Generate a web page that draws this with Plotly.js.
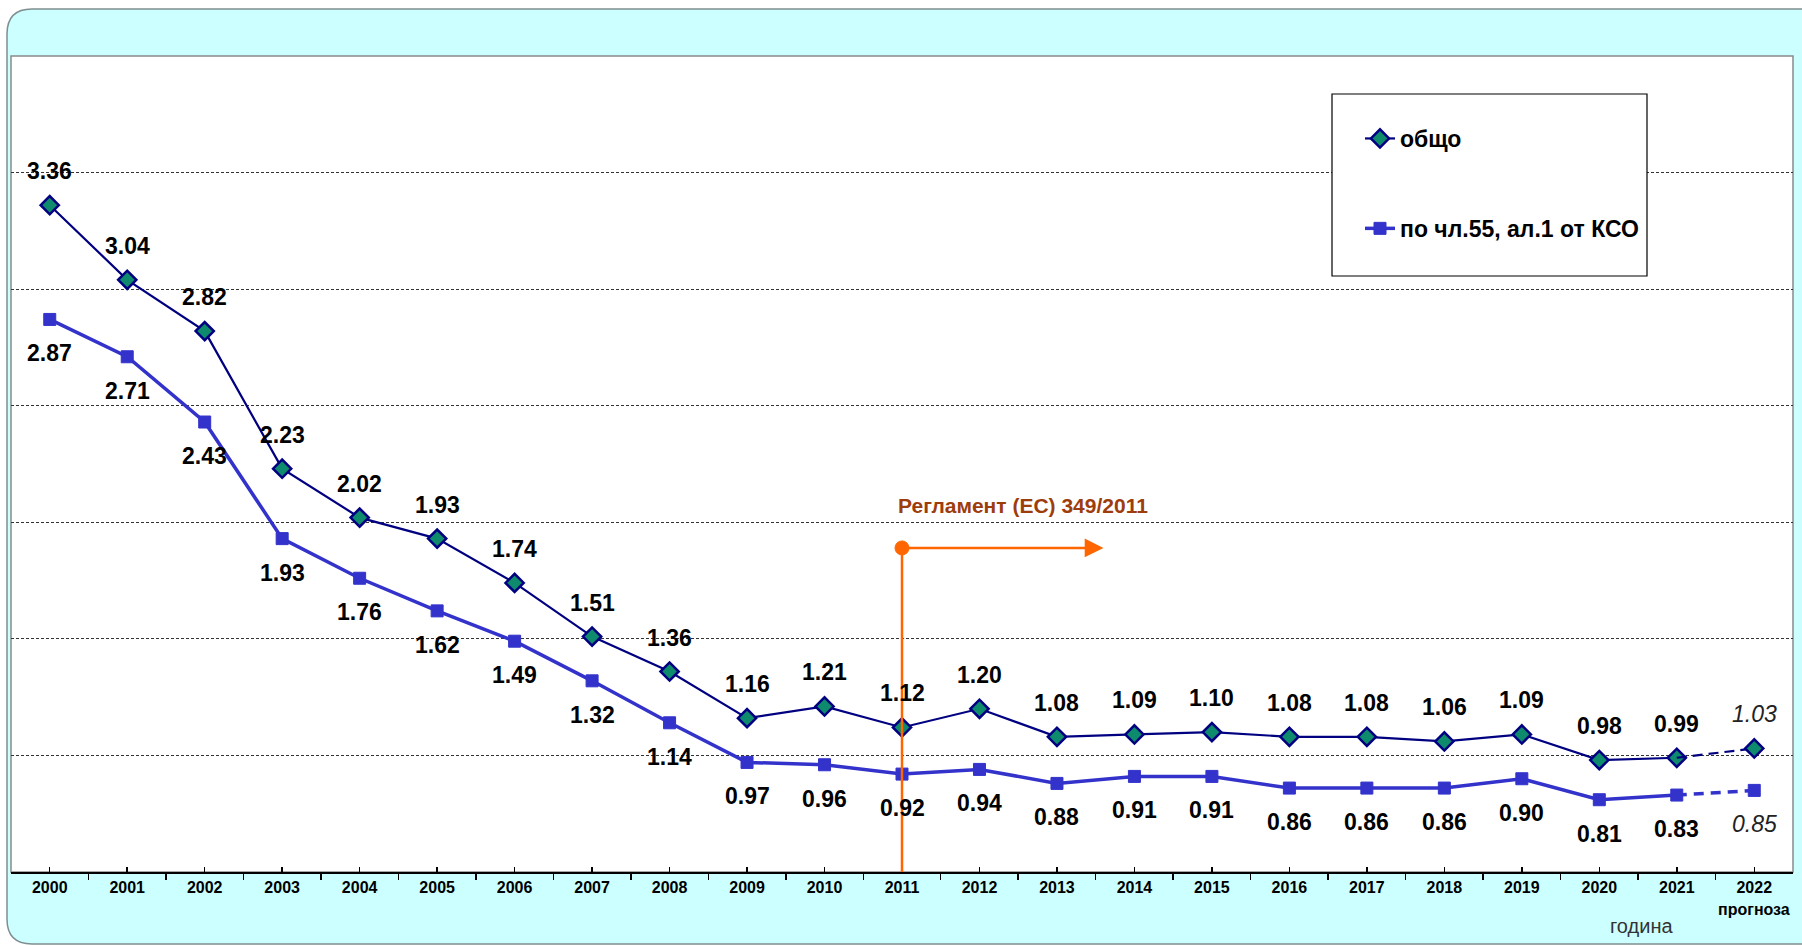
<!DOCTYPE html>
<html>
<head>
<meta charset="utf-8">
<script src="https://cdn.plot.ly/plotly-3.0.1.min.js"></script>
<style>html,body{margin:0;padding:0;background:#fff;}#chart{width:1802px;height:945px;}</style>
</head>
<body>
<div id="chart"></div>
<script>
// ---- data ----
const years = [2000,2001,2002,2003,2004,2005,2006,2007,2008,2009,2010,2011,2012,2013,2014,2015,2016,2017,2018,2019,2020,2021,2022];
const yearLabels = ['2000','2001','2002','2003','2004','2005','2006','2007','2008','2009','2010','2011','2012','2013','2014','2015','2016','2017','2018','2019','2020','2021','2022'];
const totalValues = [3.36,3.04,2.82,2.23,2.02,1.93,1.74,1.51,1.36,1.16,1.21,1.12,1.20,1.08,1.09,1.10,1.08,1.08,1.06,1.09,0.98,0.99,1.03];
const art55Values = [2.87,2.71,2.43,1.93,1.76,1.62,1.49,1.32,1.14,0.97,0.96,0.92,0.94,0.88,0.91,0.91,0.86,0.86,0.86,0.90,0.81,0.83,0.85];
const seriesNames = ['общо','по чл.55, ал.1 от КСО'];
const forecastNote = 'прогноза';
const xAxisTitle = 'година';
const gridValues = [1.0,1.5,2.0,2.5,3.0,3.5];
const regulationText = 'Регламент (ЕС) 349/2011';
const regulationYear = 2011;
const regulationLevel = 1.89;
const regulationArrowEnd = 2013.6;
const regulationTextLevel = 2.07;

// ---- geometry helpers (layout only) ----
const W = 1802, H = 945;
const M = {l: 11, r: 9, t: 56, b: 73};
const PW = W - M.l - M.r, PH = H - M.t - M.b;
const px = v => (v - M.l) / PW;
const py = v => (H - M.b - v) / PH;

const FONT = '"Liberation Sans", Arial, sans-serif';
const NAVY = '#000080';
const BLUE = '#3333CC';
const TEAL = '#0E8A6C';
const ORANGE = '#FF6600';

const nSolid = years.length - 1; // last point is a forecast

const traces = [
  {
    x: years.slice(0, nSolid), y: totalValues.slice(0, nSolid),
    name: seriesNames[0], legendgroup: 'g1', mode: 'lines+markers',
    line: {color: NAVY, width: 2.2},
    marker: {symbol: 'diamond', size: 14, color: TEAL, line: {color: NAVY, width: 2.5}},
    hoverinfo: 'x+y'
  },
  {
    x: years.slice(nSolid - 1), y: totalValues.slice(nSolid - 1),
    legendgroup: 'g1', showlegend: false, mode: 'lines+markers',
    line: {color: NAVY, width: 2.2, dash: '10px,6px'},
    marker: {symbol: 'diamond', size: 14, color: TEAL, line: {color: NAVY, width: 2.5}, opacity: [0, 1]},
    hoverinfo: 'x+y'
  },
  {
    x: years.slice(0, nSolid), y: art55Values.slice(0, nSolid),
    name: seriesNames[1], legendgroup: 'g2', mode: 'lines+markers',
    line: {color: BLUE, width: 3.5},
    marker: {symbol: 'square', size: 12, color: BLUE, line: {color: BLUE, width: 1}},
    hoverinfo: 'x+y'
  },
  {
    x: years.slice(nSolid - 1), y: art55Values.slice(nSolid - 1),
    legendgroup: 'g2', showlegend: false, mode: 'lines+markers',
    line: {color: BLUE, width: 3.5, dash: '10px,7px'},
    marker: {symbol: 'square', size: 12, color: BLUE, line: {color: BLUE, width: 1}, opacity: [0, 1]},
    hoverinfo: 'x+y'
  }
];

const annotations = [];
years.forEach((yr, i) => {
  const forecast = i === years.length - 1;
  const f = {family: FONT, size: 23, color: forecast ? '#222' : '#000', weight: forecast ? 'normal' : 'bold', style: forecast ? 'italic' : 'normal'};
  annotations.push({
    x: yr, y: totalValues[i], xref: 'x', yref: 'y', yshift: 34, showarrow: false,
    xanchor: 'center', yanchor: 'middle', text: totalValues[i].toFixed(2), font: f
  });
  annotations.push({
    x: yr, y: art55Values[i], xref: 'x', yref: 'y', yshift: -34, showarrow: false,
    xanchor: 'center', yanchor: 'middle', text: art55Values[i].toFixed(2), font: f
  });
});
// forecast note under last tick label
annotations.push({
  x: years[years.length - 1], xref: 'x', y: py(909), yref: 'paper', showarrow: false,
  xanchor: 'center', yanchor: 'middle',
  text: forecastNote, font: {family: FONT, size: 16, color: '#000', weight: 'bold'}
});
// x axis title
annotations.push({
  x: px(1641), xref: 'paper', y: py(926), yref: 'paper', showarrow: false,
  xanchor: 'center', yanchor: 'middle',
  text: xAxisTitle, font: {family: FONT, size: 20, color: '#333'}
});
// regulation marker
annotations.push({
  x: regulationArrowEnd, y: regulationLevel, xref: 'x', yref: 'y',
  ax: regulationYear, ay: regulationLevel, axref: 'x', ayref: 'y',
  text: '', showarrow: true, arrowhead: 2, arrowsize: 1.5, arrowwidth: 2.5, arrowcolor: ORANGE, standoff: 0
});
annotations.push({
  x: regulationYear, y: regulationTextLevel, xref: 'x', yref: 'y', xanchor: 'left', yanchor: 'middle', xshift: -6,
  showarrow: false, text: regulationText,
  font: {family: FONT, size: 21, color: '#9E3D0C', weight: 'bold'}
});

const r = 25;
const framePath = [
  'M', px(7), py(9 + r),
  'Q', px(7), py(9), px(7 + r), py(9),
  'L', px(1830), py(9),
  'L', px(1830), py(944),
  'L', px(7 + r), py(944),
  'Q', px(7), py(944), px(7), py(944 - r),
  'Z'
].join(' ');

const shapes = [
  {type: 'path', xref: 'paper', yref: 'paper', path: framePath, fillcolor: '#CCFFFF', line: {color: '#7f8f8f', width: 1.5}, layer: 'below'},
  {type: 'rect', xref: 'paper', yref: 'paper', x0: 0, x1: 1, y0: 0, y1: 1, fillcolor: '#FFFFFF', line: {color: '#8a8a8a', width: 1.5}, layer: 'below'},
  {type: 'line', xref: 'x', yref: 'y', x0: regulationYear, x1: regulationYear, y0: 0.5, y1: regulationLevel, line: {color: ORANGE, width: 2.5}, layer: 'above'},
  {type: 'circle', xref: 'x', yref: 'y', xsizemode: 'pixel', ysizemode: 'pixel', xanchor: regulationYear, yanchor: regulationLevel,
   x0: -7, x1: 7, y0: -7, y1: 7, fillcolor: ORANGE, line: {color: ORANGE, width: 1}, layer: 'above'},
  {type: 'rect', xref: 'paper', yref: 'paper', x0: px(1332), x1: px(1647), y0: py(276), y1: py(94), fillcolor: '#FFFFFF', line: {color: '#000', width: 1.2}, layer: 'above'}
];

const layout = {
  width: W, height: H,
  margin: M,
  paper_bgcolor: '#FFFFFF',
  plot_bgcolor: 'rgba(0,0,0,0)',
  font: {family: FONT, color: '#000'},
  showlegend: true,
  legend: {
    x: px(1360), y: py(117), xanchor: 'left', yanchor: 'top',
    bgcolor: 'rgba(0,0,0,0)', borderwidth: 0,
    font: {family: FONT, size: 23, color: '#000', weight: 'bold'},
    traceorder: 'grouped', tracegroupgap: 57
  },
  xaxis: {
    range: [1999.5, 2022.5],
    tickmode: 'array', tickvals: years, ticktext: yearLabels,
    ticks: 'inside', ticklen: 5, tickwidth: 1.5, tickcolor: '#000',
    tickfont: {family: FONT, size: 16, color: '#000', weight: 'bold'},
    showline: true, linecolor: '#000', linewidth: 2,
    showgrid: false, zeroline: false, fixedrange: true,
    minor: {tick0: 1999.5, dtick: 1, ticks: 'outside', ticklen: 6, tickwidth: 1.5, tickcolor: '#000', showgrid: false}
  },
  yaxis: {
    range: [0.5, 4.0],
    tickmode: 'array', tickvals: gridValues,
    showticklabels: false, ticks: '',
    showgrid: true, gridcolor: '#333', gridwidth: 1, griddash: '3px,2px',
    showline: false, zeroline: false, fixedrange: true
  },
  shapes: shapes,
  annotations: annotations
};

Plotly.newPlot('chart', traces, layout, {displayModeBar: false, staticPlot: true});
</script>
</body>
</html>
